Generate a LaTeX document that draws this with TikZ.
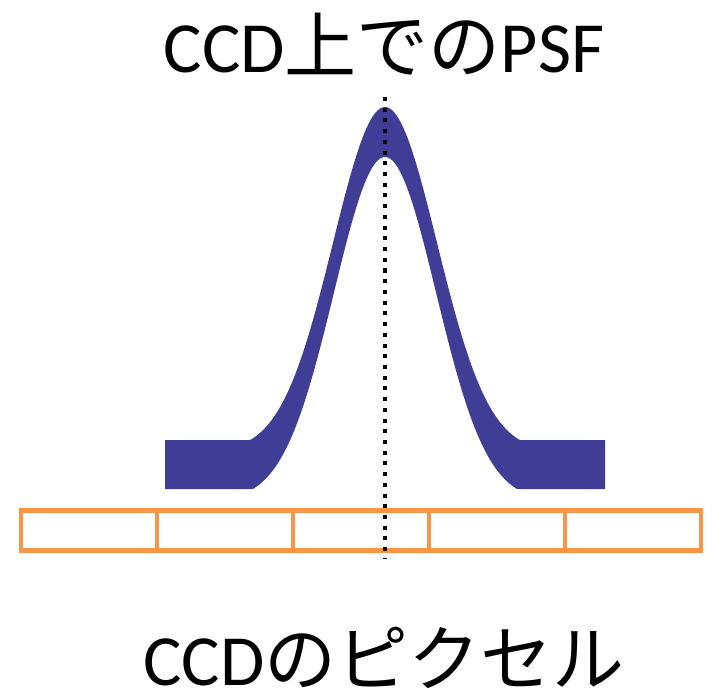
\documentclass[tikz,border=0pt]{standalone}
\usepackage{fontspec}
\setmainfont{Carlito}
\newfontfamily\jpfont{Noto Sans CJK JP}
\definecolor{BandColor}{RGB}{63,61,150}
\definecolor{PixelColor}{RGB}{247,150,70}
\usetikzlibrary{positioning}

\begin{document}
\begin{tikzpicture}[x=0.02cm, y=-0.02cm,
    declare function={bump(\u)=max(0,(exp(-0.5*(\u)^2)-0.035)/0.965);},
    psfband/.style={fill=BandColor, draw=none},
    pixcell/.style={draw=PixelColor, line width=2.8pt, minimum width=2.72cm, minimum height=0.8cm, inner sep=0pt},
    centreline/.style={line width=2.3pt, dash pattern=on 2.3pt off 3.8pt},
    biglabel/.style={font=\fontsize{41}{46}\selectfont, inner sep=0pt}]
  \useasboundingbox (0,0) rectangle (712,692);
  % PSF band
  \fill[psfband] plot[domain=165:605, samples=200] (\x, {440-333*bump((\x-385)/52)})
    -- plot[domain=605:165, samples=200] (\x, {489-332*bump((\x-385)/51)}) -- cycle;
  % CCD pixels
  \foreach \i in {1,...,5}
    \node[pixcell] (pix\i) at ({89+136*(\i-1)}, 530.5) {};
  % centre of the PSF
  \coordinate (top) at (385,97);
  \coordinate (bottom) at (385,558);
  \draw[centreline] (top) -- (bottom);
  % labels
  \node[biglabel] (title) at (384,44) {CCD{\jpfont 上での}PSF};
  \node[biglabel, anchor=south] (pixlabel) at (384,689) {CCD{\jpfont のピクセル}};
\end{tikzpicture}
\end{document}
